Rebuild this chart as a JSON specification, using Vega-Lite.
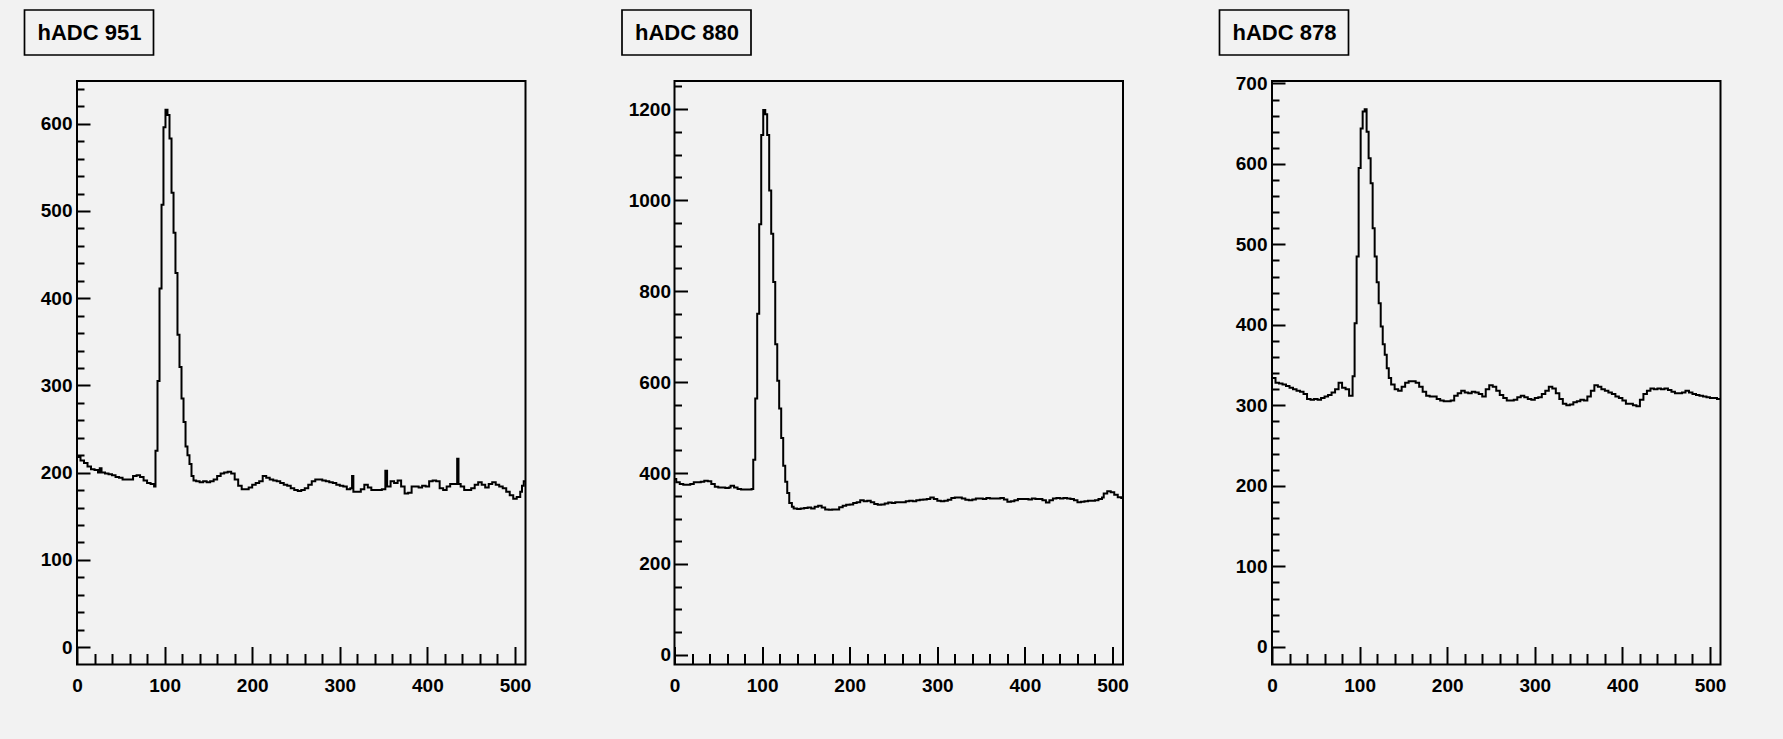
{
  "$schema": "https://vega.github.io/schema/vega-lite/v6.json",
  "background": "#f2f2f2",
  "padding": {"left": 22, "top": 8, "right": 58, "bottom": 45},
  "bounds": "flush",
  "spacing": 148.5,
  "resolve": {"scale": {"color": "independent"}, "legend": {"color": "independent"}},
  "config": {
    "view": {"stroke": "black", "strokeWidth": 2, "fill": "#f2f2f2"},
    "axis": {
      "domain": false, "grid": false, "tickColor": "black", "tickWidth": 2, "format": "d",
      "labelFont": "Liberation Sans", "labelFontWeight": "bold", "labelFontSize": 19, "labelColor": "black",
      "labelOverlap": false, "labelFlush": false, "title": null
    },
    "legend": {
      "orient": "none", "legendX": -52.5, "legendY": -71,
      "strokeColor": "black", "strokeWidth": 1.7, "fillColor": "#f2f2f2", "padding": 11.5, "cornerRadius": 0,
      "symbolSize": 0, "symbolStrokeWidth": 0, "symbolOpacity": 0, "symbolType": "square",
      "labelFont": "Liberation Sans", "labelFontWeight": "bold", "labelFontSize": 22, "labelColor": "black",
      "labelOffset": -20.5, "labelLimit": 0, "title": null
    }
  },
  "datasets": {
    "h951": [
      {"adc": 0, "count": 218}, {"adc": 4, "count": 214}, {"adc": 8, "count": 211}, {"adc": 12, "count": 207},
      {"adc": 16, "count": 204}, {"adc": 20, "count": 203}, {"adc": 24, "count": 200}, {"adc": 26, "count": 205},
      {"adc": 28, "count": 200}, {"adc": 32, "count": 199}, {"adc": 36, "count": 198}, {"adc": 40, "count": 197},
      {"adc": 44, "count": 195}, {"adc": 48, "count": 194}, {"adc": 52, "count": 192}, {"adc": 56, "count": 192},
      {"adc": 60, "count": 192}, {"adc": 64, "count": 196}, {"adc": 68, "count": 197}, {"adc": 72, "count": 195},
      {"adc": 76, "count": 191}, {"adc": 80, "count": 188}, {"adc": 84, "count": 187}, {"adc": 88, "count": 184},
      {"adc": 89.6, "count": 225}, {"adc": 91.9, "count": 305}, {"adc": 94.2, "count": 411}, {"adc": 96.5, "count": 507},
      {"adc": 98.7, "count": 596}, {"adc": 101, "count": 616}, {"adc": 103.3, "count": 610}, {"adc": 105.6, "count": 583},
      {"adc": 107.9, "count": 521}, {"adc": 110.2, "count": 475}, {"adc": 112.4, "count": 429}, {"adc": 114.7, "count": 358},
      {"adc": 117, "count": 321}, {"adc": 119.3, "count": 285}, {"adc": 121.6, "count": 258}, {"adc": 123.9, "count": 230},
      {"adc": 126.1, "count": 220}, {"adc": 128.4, "count": 210}, {"adc": 130.7, "count": 196}, {"adc": 133, "count": 191},
      {"adc": 136, "count": 190}, {"adc": 140, "count": 189}, {"adc": 144, "count": 190}, {"adc": 148, "count": 189},
      {"adc": 152, "count": 190}, {"adc": 156, "count": 192}, {"adc": 160, "count": 196}, {"adc": 164, "count": 199},
      {"adc": 168, "count": 200}, {"adc": 172, "count": 201}, {"adc": 176, "count": 199}, {"adc": 180, "count": 192},
      {"adc": 184, "count": 185}, {"adc": 188, "count": 181}, {"adc": 192, "count": 181}, {"adc": 196, "count": 183},
      {"adc": 200, "count": 186}, {"adc": 204, "count": 188}, {"adc": 208, "count": 190}, {"adc": 212, "count": 196},
      {"adc": 216, "count": 194}, {"adc": 220, "count": 192}, {"adc": 224, "count": 191}, {"adc": 228, "count": 190},
      {"adc": 232, "count": 188}, {"adc": 236, "count": 186}, {"adc": 240, "count": 185}, {"adc": 244, "count": 182},
      {"adc": 248, "count": 180}, {"adc": 252, "count": 179}, {"adc": 256, "count": 180}, {"adc": 260, "count": 182},
      {"adc": 264, "count": 186}, {"adc": 268, "count": 190}, {"adc": 272, "count": 192}, {"adc": 276, "count": 192},
      {"adc": 280, "count": 191}, {"adc": 284, "count": 190}, {"adc": 288, "count": 189}, {"adc": 292, "count": 188},
      {"adc": 296, "count": 186}, {"adc": 300, "count": 185}, {"adc": 304, "count": 184}, {"adc": 308, "count": 181},
      {"adc": 312, "count": 182}, {"adc": 314, "count": 196}, {"adc": 315.5, "count": 178}, {"adc": 320, "count": 178},
      {"adc": 324, "count": 181}, {"adc": 328, "count": 186}, {"adc": 332, "count": 183}, {"adc": 336, "count": 180},
      {"adc": 340, "count": 180}, {"adc": 344, "count": 180}, {"adc": 348, "count": 181}, {"adc": 352, "count": 202},
      {"adc": 354, "count": 184}, {"adc": 358, "count": 190}, {"adc": 362, "count": 188}, {"adc": 366, "count": 191},
      {"adc": 370, "count": 184}, {"adc": 374, "count": 176}, {"adc": 378, "count": 177}, {"adc": 382, "count": 184},
      {"adc": 386, "count": 184}, {"adc": 390, "count": 183}, {"adc": 394, "count": 185}, {"adc": 398, "count": 184},
      {"adc": 402, "count": 190}, {"adc": 406, "count": 191}, {"adc": 410, "count": 190}, {"adc": 414, "count": 182},
      {"adc": 418, "count": 180}, {"adc": 422, "count": 184}, {"adc": 426, "count": 187}, {"adc": 430, "count": 187},
      {"adc": 434, "count": 216}, {"adc": 435.5, "count": 187}, {"adc": 438, "count": 184}, {"adc": 442, "count": 180},
      {"adc": 446, "count": 180}, {"adc": 450, "count": 182}, {"adc": 454, "count": 186}, {"adc": 458, "count": 189},
      {"adc": 462, "count": 186}, {"adc": 466, "count": 183}, {"adc": 470, "count": 187}, {"adc": 474, "count": 189},
      {"adc": 478, "count": 186}, {"adc": 482, "count": 184}, {"adc": 486, "count": 182}, {"adc": 490, "count": 178},
      {"adc": 494, "count": 174}, {"adc": 498, "count": 170}, {"adc": 502, "count": 172}, {"adc": 506, "count": 178},
      {"adc": 508, "count": 185}, {"adc": 510, "count": 190}, {"adc": 512, "count": 190}
    ],
    "h880": [
      {"adc": 0, "count": 387}, {"adc": 2, "count": 380}, {"adc": 6, "count": 376}, {"adc": 10, "count": 374},
      {"adc": 14, "count": 374}, {"adc": 18, "count": 376}, {"adc": 22, "count": 380}, {"adc": 26, "count": 380},
      {"adc": 30, "count": 381}, {"adc": 34, "count": 383}, {"adc": 38, "count": 382}, {"adc": 42, "count": 376},
      {"adc": 46, "count": 370}, {"adc": 50, "count": 368}, {"adc": 54, "count": 368}, {"adc": 58, "count": 367},
      {"adc": 62, "count": 368}, {"adc": 64, "count": 372}, {"adc": 68, "count": 368}, {"adc": 72, "count": 365},
      {"adc": 76, "count": 364}, {"adc": 80, "count": 364}, {"adc": 84, "count": 364}, {"adc": 88, "count": 365},
      {"adc": 89.9, "count": 429}, {"adc": 92.2, "count": 564}, {"adc": 94.4, "count": 750}, {"adc": 96.7, "count": 947},
      {"adc": 99, "count": 1143}, {"adc": 101.3, "count": 1198}, {"adc": 103.6, "count": 1189}, {"adc": 105.8, "count": 1143},
      {"adc": 108.1, "count": 1021}, {"adc": 110.4, "count": 926}, {"adc": 112.7, "count": 820}, {"adc": 115, "count": 683},
      {"adc": 117.3, "count": 603}, {"adc": 119.5, "count": 542}, {"adc": 121.8, "count": 477}, {"adc": 124.1, "count": 416},
      {"adc": 126.4, "count": 381}, {"adc": 128.7, "count": 356}, {"adc": 131, "count": 334}, {"adc": 134, "count": 326},
      {"adc": 136, "count": 322}, {"adc": 140, "count": 321}, {"adc": 144, "count": 322}, {"adc": 148, "count": 323},
      {"adc": 152, "count": 324}, {"adc": 156, "count": 322}, {"adc": 160, "count": 326}, {"adc": 164, "count": 328},
      {"adc": 168, "count": 324}, {"adc": 172, "count": 320}, {"adc": 176, "count": 319}, {"adc": 180, "count": 320},
      {"adc": 184, "count": 320}, {"adc": 188, "count": 325}, {"adc": 192, "count": 328}, {"adc": 196, "count": 330},
      {"adc": 200, "count": 331}, {"adc": 204, "count": 334}, {"adc": 208, "count": 336}, {"adc": 212, "count": 340},
      {"adc": 216, "count": 338}, {"adc": 220, "count": 339}, {"adc": 224, "count": 336}, {"adc": 228, "count": 332},
      {"adc": 232, "count": 330}, {"adc": 236, "count": 331}, {"adc": 240, "count": 333}, {"adc": 244, "count": 335},
      {"adc": 248, "count": 334}, {"adc": 252, "count": 336}, {"adc": 256, "count": 336}, {"adc": 260, "count": 336},
      {"adc": 264, "count": 338}, {"adc": 268, "count": 339}, {"adc": 272, "count": 338}, {"adc": 276, "count": 340},
      {"adc": 280, "count": 341}, {"adc": 284, "count": 342}, {"adc": 288, "count": 343}, {"adc": 292, "count": 346},
      {"adc": 296, "count": 343}, {"adc": 300, "count": 339}, {"adc": 304, "count": 338}, {"adc": 308, "count": 339},
      {"adc": 312, "count": 341}, {"adc": 316, "count": 345}, {"adc": 320, "count": 346}, {"adc": 324, "count": 346},
      {"adc": 328, "count": 344}, {"adc": 332, "count": 341}, {"adc": 336, "count": 340}, {"adc": 340, "count": 342},
      {"adc": 344, "count": 344}, {"adc": 348, "count": 344}, {"adc": 352, "count": 343}, {"adc": 356, "count": 345},
      {"adc": 360, "count": 344}, {"adc": 364, "count": 344}, {"adc": 368, "count": 344}, {"adc": 372, "count": 345},
      {"adc": 376, "count": 342}, {"adc": 380, "count": 337}, {"adc": 384, "count": 338}, {"adc": 388, "count": 340},
      {"adc": 392, "count": 343}, {"adc": 396, "count": 343}, {"adc": 400, "count": 343}, {"adc": 404, "count": 342},
      {"adc": 408, "count": 344}, {"adc": 412, "count": 343}, {"adc": 416, "count": 343}, {"adc": 420, "count": 340},
      {"adc": 424, "count": 335}, {"adc": 428, "count": 340}, {"adc": 432, "count": 344}, {"adc": 436, "count": 345},
      {"adc": 440, "count": 344}, {"adc": 444, "count": 345}, {"adc": 448, "count": 344}, {"adc": 452, "count": 343},
      {"adc": 456, "count": 340}, {"adc": 460, "count": 336}, {"adc": 464, "count": 337}, {"adc": 468, "count": 338},
      {"adc": 472, "count": 339}, {"adc": 476, "count": 339}, {"adc": 480, "count": 340}, {"adc": 484, "count": 343},
      {"adc": 488, "count": 346}, {"adc": 490, "count": 355}, {"adc": 494, "count": 360}, {"adc": 498, "count": 358},
      {"adc": 502, "count": 352}, {"adc": 506, "count": 347}, {"adc": 510, "count": 345}, {"adc": 512, "count": 345}
    ],
    "h878": [
      {"adc": 0, "count": 334}, {"adc": 4, "count": 328}, {"adc": 8, "count": 327}, {"adc": 12, "count": 326},
      {"adc": 16, "count": 324}, {"adc": 20, "count": 322}, {"adc": 24, "count": 320}, {"adc": 28, "count": 318},
      {"adc": 32, "count": 317}, {"adc": 36, "count": 314}, {"adc": 40, "count": 308}, {"adc": 44, "count": 307},
      {"adc": 48, "count": 308}, {"adc": 52, "count": 307}, {"adc": 56, "count": 309}, {"adc": 60, "count": 311},
      {"adc": 64, "count": 313}, {"adc": 68, "count": 316}, {"adc": 72, "count": 320}, {"adc": 76, "count": 328},
      {"adc": 80, "count": 322}, {"adc": 84, "count": 320}, {"adc": 88, "count": 312}, {"adc": 92, "count": 336},
      {"adc": 94.3, "count": 402}, {"adc": 96.6, "count": 485}, {"adc": 98.9, "count": 595}, {"adc": 101.2, "count": 644},
      {"adc": 103.5, "count": 665}, {"adc": 105.8, "count": 668}, {"adc": 108, "count": 640}, {"adc": 110.3, "count": 607},
      {"adc": 112.6, "count": 576}, {"adc": 114.9, "count": 520}, {"adc": 117.2, "count": 485}, {"adc": 119.5, "count": 453},
      {"adc": 121.8, "count": 427}, {"adc": 124.1, "count": 398}, {"adc": 126.4, "count": 376}, {"adc": 128.7, "count": 363},
      {"adc": 131, "count": 346}, {"adc": 133.3, "count": 334}, {"adc": 136, "count": 326}, {"adc": 140, "count": 320},
      {"adc": 144, "count": 318}, {"adc": 148, "count": 323}, {"adc": 152, "count": 328}, {"adc": 156, "count": 330},
      {"adc": 160, "count": 330}, {"adc": 164, "count": 328}, {"adc": 168, "count": 323}, {"adc": 172, "count": 317},
      {"adc": 176, "count": 312}, {"adc": 180, "count": 311}, {"adc": 184, "count": 311}, {"adc": 188, "count": 308},
      {"adc": 192, "count": 306}, {"adc": 196, "count": 305}, {"adc": 200, "count": 305}, {"adc": 204, "count": 306},
      {"adc": 208, "count": 312}, {"adc": 212, "count": 315}, {"adc": 216, "count": 318}, {"adc": 220, "count": 316},
      {"adc": 224, "count": 315}, {"adc": 228, "count": 317}, {"adc": 232, "count": 316}, {"adc": 236, "count": 314},
      {"adc": 240, "count": 311}, {"adc": 244, "count": 320}, {"adc": 248, "count": 325}, {"adc": 252, "count": 323},
      {"adc": 256, "count": 318}, {"adc": 260, "count": 313}, {"adc": 264, "count": 309}, {"adc": 268, "count": 306},
      {"adc": 272, "count": 306}, {"adc": 276, "count": 307}, {"adc": 280, "count": 310}, {"adc": 284, "count": 312},
      {"adc": 288, "count": 310}, {"adc": 292, "count": 308}, {"adc": 296, "count": 307}, {"adc": 300, "count": 309},
      {"adc": 304, "count": 310}, {"adc": 308, "count": 314}, {"adc": 312, "count": 318}, {"adc": 316, "count": 323},
      {"adc": 320, "count": 321}, {"adc": 324, "count": 315}, {"adc": 328, "count": 308}, {"adc": 332, "count": 302},
      {"adc": 336, "count": 300}, {"adc": 340, "count": 301}, {"adc": 344, "count": 304}, {"adc": 348, "count": 305},
      {"adc": 352, "count": 307}, {"adc": 356, "count": 306}, {"adc": 360, "count": 311}, {"adc": 364, "count": 318},
      {"adc": 368, "count": 325}, {"adc": 372, "count": 323}, {"adc": 376, "count": 320}, {"adc": 380, "count": 318},
      {"adc": 384, "count": 316}, {"adc": 388, "count": 314}, {"adc": 392, "count": 311}, {"adc": 396, "count": 309},
      {"adc": 400, "count": 306}, {"adc": 404, "count": 302}, {"adc": 408, "count": 302}, {"adc": 412, "count": 300},
      {"adc": 416, "count": 299}, {"adc": 420, "count": 307}, {"adc": 424, "count": 314}, {"adc": 428, "count": 318},
      {"adc": 432, "count": 321}, {"adc": 436, "count": 320}, {"adc": 440, "count": 321}, {"adc": 444, "count": 320},
      {"adc": 448, "count": 321}, {"adc": 452, "count": 319}, {"adc": 456, "count": 317}, {"adc": 460, "count": 315},
      {"adc": 464, "count": 315}, {"adc": 468, "count": 316}, {"adc": 472, "count": 318}, {"adc": 476, "count": 316},
      {"adc": 480, "count": 314}, {"adc": 484, "count": 313}, {"adc": 488, "count": 312}, {"adc": 492, "count": 311},
      {"adc": 496, "count": 310}, {"adc": 500, "count": 309}, {"adc": 504, "count": 309}, {"adc": 508, "count": 308},
      {"adc": 512, "count": 308}
    ]
  },
  "hconcat": [
    {
      "width": 448.5, "height": 583.5,
      "data": {"name": "h951"},
      "mark": {"type": "line", "interpolate": "step-after", "color": "black", "strokeWidth": 2},
      "encoding": {
        "x": {"field": "adc", "type": "quantitative", "scale": {"domain": [0, 512], "nice": false, "zero": false},
          "axis": {"values": [0,20,40,60,80,100,120,140,160,180,200,220,240,260,280,300,320,340,360,380,400,420,440,460,480,500],
            "tickSize": {"condition": {"test": "datum.value % 100 === 0", "value": -18}, "value": -11},
            "labelExpr": "datum.value % 100 === 0 ? datum.label : ''", "labelPadding": 30}},
        "y": {"field": "count", "type": "quantitative", "scale": {"domain": [-20, 649], "nice": false, "zero": false},
          "axis": {"values": [0,20,40,60,80,100,120,140,160,180,200,220,240,260,280,300,320,340,360,380,400,420,440,460,480,500,520,540,560,580,600,620,640],
            "tickSize": {"condition": {"test": "datum.value % 100 === 0", "value": -13}, "value": -7},
            "labelExpr": "datum.value % 100 === 0 ? datum.label : ''", "labelPadding": 18}},
        "color": {"datum": "hADC 951", "type": "nominal", "scale": {"range": ["black"]}}
      }
    },
    {
      "width": 448.5, "height": 583.5,
      "data": {"name": "h880"},
      "mark": {"type": "line", "interpolate": "step-after", "color": "black", "strokeWidth": 2},
      "encoding": {
        "x": {"field": "adc", "type": "quantitative", "scale": {"domain": [0, 512], "nice": false, "zero": false},
          "axis": {"values": [0,20,40,60,80,100,120,140,160,180,200,220,240,260,280,300,320,340,360,380,400,420,440,460,480,500],
            "tickSize": {"condition": {"test": "datum.value % 100 === 0", "value": -18}, "value": -11},
            "labelExpr": "datum.value % 100 === 0 ? datum.label : ''", "labelPadding": 30}},
        "y": {"field": "count", "type": "quantitative", "scale": {"domain": [-21, 1262], "nice": false, "zero": false},
          "axis": {"values": [0,50,100,150,200,250,300,350,400,450,500,550,600,650,700,750,800,850,900,950,1000,1050,1100,1150,1200,1250],
            "tickSize": {"condition": {"test": "datum.value % 200 === 0", "value": -13}, "value": -7},
            "labelExpr": "datum.value % 200 === 0 ? datum.label : ''", "labelPadding": 17}},
        "color": {"datum": "hADC 880", "type": "nominal", "scale": {"range": ["black"]}}
      }
    },
    {
      "width": 448.5, "height": 583.5,
      "data": {"name": "h878"},
      "mark": {"type": "line", "interpolate": "step-after", "color": "black", "strokeWidth": 2},
      "encoding": {
        "x": {"field": "adc", "type": "quantitative", "scale": {"domain": [0, 512], "nice": false, "zero": false},
          "axis": {"values": [0,20,40,60,80,100,120,140,160,180,200,220,240,260,280,300,320,340,360,380,400,420,440,460,480,500],
            "tickSize": {"condition": {"test": "datum.value % 100 === 0", "value": -18}, "value": -11},
            "labelExpr": "datum.value % 100 === 0 ? datum.label : ''", "labelPadding": 30}},
        "y": {"field": "count", "type": "quantitative", "scale": {"domain": [-22, 703], "nice": false, "zero": false},
          "axis": {"values": [0,20,40,60,80,100,120,140,160,180,200,220,240,260,280,300,320,340,360,380,400,420,440,460,480,500,520,540,560,580,600,620,640,660,680,700],
            "tickSize": {"condition": {"test": "datum.value % 100 === 0", "value": -13}, "value": -7},
            "labelExpr": "datum.value % 100 === 0 ? datum.label : ''", "labelPadding": 18}},
        "color": {"datum": "hADC 878", "type": "nominal", "scale": {"range": ["black"]}}
      }
    }
  ]
}
